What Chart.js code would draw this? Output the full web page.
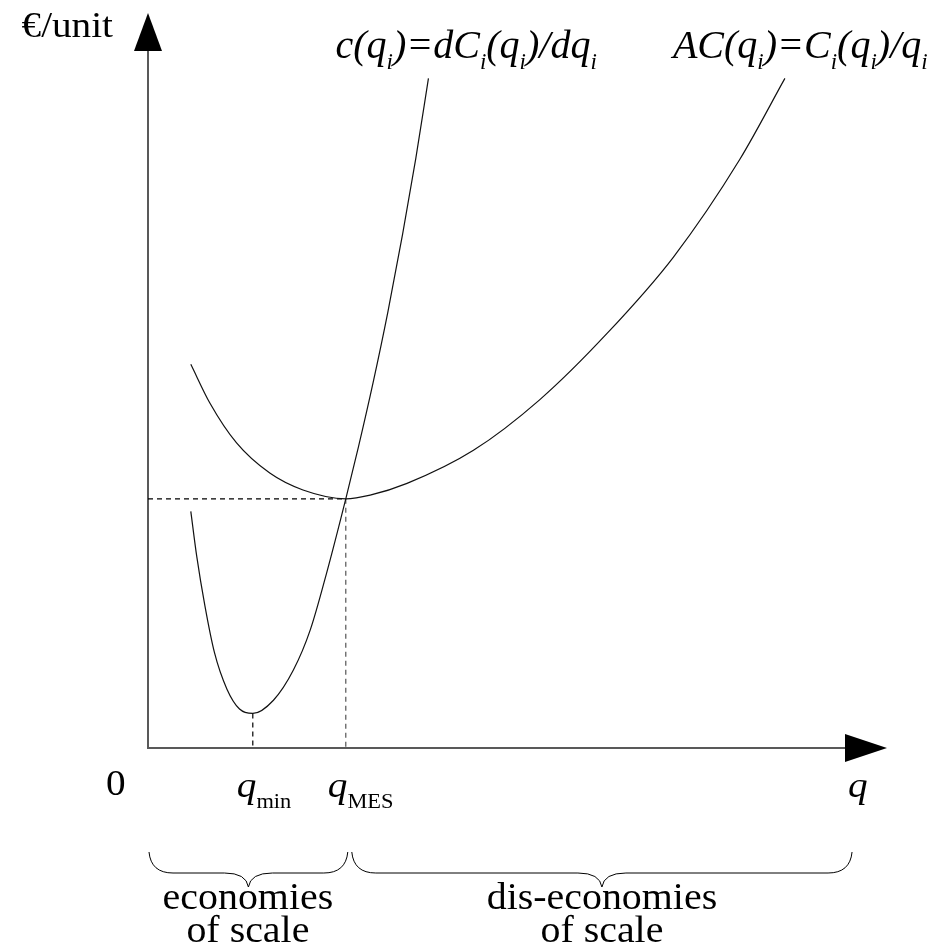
<!DOCTYPE html>
<html>
<head>
<meta charset="utf-8">
<script src="https://cdn.jsdelivr.net/npm/chart.js@4.4.1/dist/chart.umd.min.js"></script>
<style>
  html, body { margin: 0; padding: 0; background: #fff; }
  #wrap { width: 937px; height: 947px; }
</style>
</head>
<body>
<div id="wrap"><canvas id="chart"></canvas></div>
<script>
// Output q on a 0–100 scale, cost in €/unit on a 0–100 scale.
// Marginal cost c(q) = dC/dq
const mcQ    = [5.8, 6.6, 7.7, 9.0, 10.7, 12.4, 14.2, 17.0, 19.7, 22.0, 24.2, 26.8, 28.5, 30.5, 32.5, 34.5, 36.3, 38.0];
const mcCost = [32.2, 26.1, 19.4, 13.0, 8.0, 5.3, 4.7, 6.5, 10.6, 16.1, 23.8, 33.9, 40.9, 49.7, 59.3, 69.9, 80.3, 91.1];
// Average cost AC(q) = C/q
const acQ    = [5.8, 8.4, 12.0, 16.5, 21.0, 26.8, 30.1, 35.1, 44.1, 53.1, 62.2, 71.2, 80.2, 86.3];
const acCost = [52.2, 46.9, 41.5, 37.4, 35.1, 33.9, 34.4, 36.0, 40.5, 47.4, 56.4, 66.8, 80.1, 91.1];
// Key outputs
const qMin = 14.2, mcAtQMin = 4.7;     // bottom of the marginal cost curve
const qMES = 26.8, costAtMES = 33.9;   // minimum efficient scale: c = AC
const qEnd = 95.4;                     // end of the q range shown

const toPts = (xs, ys) => xs.map((x, i) => ({ x, y: ys[i] }));

const SERIF = "'Liberation Serif', 'Times New Roman', serif";

// A run is { t, size, it, drop }; sx is the horizontal stretch.
function runsWidth(ctx, runs, sx) {
  let w = 0;
  for (const r of runs) {
    ctx.font = (r.it ? 'italic ' : '') + r.size + 'px ' + SERIF;
    w += ctx.measureText(r.t).width * sx;
  }
  return w;
}
function drawRuns(ctx, runs, x, y, sx) {
  let cx = x;
  ctx.textBaseline = 'alphabetic';
  ctx.textAlign = 'left';
  for (const r of runs) {
    ctx.font = (r.it ? 'italic ' : '') + r.size + 'px ' + SERIF;
    ctx.save();
    ctx.translate(cx, y + (r.drop || 0));
    ctx.scale(sx, 1);
    ctx.fillText(r.t, 0, 0);
    ctx.restore();
    cx += ctx.measureText(r.t).width * sx;
  }
}
function drawCentered(ctx, runs, cx, y, sx) {
  drawRuns(ctx, runs, cx - runsWidth(ctx, runs, sx) / 2, y, sx);
}

// curve labels: italic 40px with 23px subscripts
const LM = t => ({ t, size: 40, it: true });
const LS = t => ({ t, size: 23, it: true, drop: 11 });
const mcLabel = [LM('c('), LM('q'), LS('i'), LM(')=dC'), LS('i'), LM('('), LM('q'), LS('i'), LM(')/dq'), LS('i')];
const acLabel = [LM('AC('), LM('q'), LS('i'), LM(')=C'), LS('i'), LM('('), LM('q'), LS('i'), LM(')/q'), LS('i')];

// axis annotations
const AM = t => ({ t, size: 35, it: true });
const AU = t => ({ t, size: 35, it: false });
const AS = t => ({ t, size: 20, it: false, drop: 11 });
const AX_SX = 1.12;

// region captions
const CU = t => ({ t, size: 38, it: false });
const CAP_SX = 1.05;

function brace(ctx, x1, x2, yTop, yMid, yTip) {
  const xm = (x1 + x2) / 2, r = 24;
  ctx.beginPath();
  ctx.moveTo(x1, yTop);
  ctx.quadraticCurveTo(x1 + 2, yMid, x1 + r, yMid);
  ctx.lineTo(xm - r, yMid);
  ctx.quadraticCurveTo(xm - 2, yMid, xm, yTip);
  ctx.quadraticCurveTo(xm + 2, yMid, xm + r, yMid);
  ctx.lineTo(x2 - r, yMid);
  ctx.quadraticCurveTo(x2 - 2, yMid, x2, yTop);
  ctx.stroke();
}

const axesPlugin = {
  id: 'arrowAxes',
  beforeDatasetsDraw(chart) {
    const { ctx, chartArea: a, scales: { x, y } } = chart;
    const x0 = x.getPixelForValue(0), y0 = y.getPixelForValue(0);
    ctx.save();
    ctx.strokeStyle = '#595959';
    ctx.lineWidth = 2;
    ctx.beginPath();
    ctx.moveTo(x0, y0 + 1); ctx.lineTo(x0, a.top + 38);
    ctx.moveTo(x0 - 1, y0); ctx.lineTo(a.right - 41, y0);
    ctx.stroke();
    ctx.fillStyle = '#000';
    ctx.beginPath();
    ctx.moveTo(x0, a.top); ctx.lineTo(x0 - 14, a.top + 38); ctx.lineTo(x0 + 14, a.top + 38);
    ctx.closePath(); ctx.fill();
    ctx.beginPath();
    ctx.moveTo(a.right + 1, y0); ctx.lineTo(a.right - 41, y0 - 14); ctx.lineTo(a.right - 41, y0 + 14);
    ctx.closePath(); ctx.fill();
    ctx.restore();
  },
  afterDraw(chart) {
    const { ctx, chartArea: a, scales: { x, y } } = chart;
    const x0 = x.getPixelForValue(0);
    ctx.save();
    ctx.fillStyle = '#000';

    // y-axis title
    const yt = [AU('€/unit')];
    drawRuns(ctx, yt, x0 - 35 - runsWidth(ctx, yt, AX_SX), 37, AX_SX);

    // curve labels above their upper ends
    const mcTop = x.getPixelForValue(mcQ[mcQ.length - 1]);
    const acTop = x.getPixelForValue(acQ[acQ.length - 1]);
    drawRuns(ctx, mcLabel, mcTop - 93, 58, 1);
    drawRuns(ctx, acLabel, acTop - 112, 58, 1);

    // x-axis labels
    drawRuns(ctx, [AU('0')], x0 - 42, 795, AX_SX);
    drawRuns(ctx, [AM('q'), AS('min')], x.getPixelForValue(qMin) - 16, 797, AX_SX);
    drawRuns(ctx, [AM('q'), AS('MES')], x.getPixelForValue(qMES) - 18, 797, AX_SX);
    drawRuns(ctx, [AM('q')], a.right - 38, 797, AX_SX);

    // ranges of scale economies
    ctx.strokeStyle = '#000';
    ctx.lineWidth = 1;
    const xa = x.getPixelForValue(0), xb = x.getPixelForValue(qMES), xc = x.getPixelForValue(qEnd);
    brace(ctx, xa + 1, xb + 2, 852, 873, 887);
    brace(ctx, xb + 6, xc, 852, 873, 887);
    drawCentered(ctx, [CU('economies')], (xa + xb) / 2 + 1, 909, CAP_SX);
    drawCentered(ctx, [CU('of scale')], (xa + xb) / 2 + 1, 942, CAP_SX);
    drawCentered(ctx, [CU('dis-economies')], (xb + xc) / 2 + 3, 909, CAP_SX);
    drawCentered(ctx, [CU('of scale')], (xb + xc) / 2 + 3, 942, CAP_SX);
    ctx.restore();
  }
};

const dashed = { borderColor: '#000', borderWidth: 1.2, borderDash: [5, 4], pointRadius: 0, showLine: true, fill: false };

new Chart(document.getElementById('chart'), {
  type: 'scatter',
  data: {
    datasets: [
      { label: 'c(q)', data: toPts(mcQ, mcCost), showLine: true, borderColor: '#111', borderWidth: 1.2,
        pointRadius: 0, cubicInterpolationMode: 'monotone', fill: false },
      { label: 'AC(q)', data: toPts(acQ, acCost), showLine: true, borderColor: '#111', borderWidth: 1.2,
        pointRadius: 0, cubicInterpolationMode: 'monotone', fill: false },
      Object.assign({ label: 'MES level', data: [{ x: 0, y: costAtMES }, { x: qMES, y: costAtMES }] }, dashed),
      Object.assign({ label: 'q MES', data: [{ x: qMES, y: costAtMES }, { x: qMES, y: 0 }] }, dashed, { borderColor: '#555' }),
      Object.assign({ label: 'q min', data: [{ x: qMin, y: mcAtQMin }, { x: qMin, y: 0 }] }, dashed)
    ]
  },
  options: {
    responsive: true,
    maintainAspectRatio: false,
    animation: false,
    devicePixelRatio: 1,
    layout: { padding: { left: 148, right: 51, top: 13, bottom: 199 } },
    scales: {
      x: { type: 'linear', min: 0, max: 100, display: false },
      y: { type: 'linear', min: 0, max: 100, display: false }
    },
    plugins: { legend: { display: false }, tooltip: { enabled: false } }
  },
  plugins: [axesPlugin]
});
</script>
</body>
</html>
